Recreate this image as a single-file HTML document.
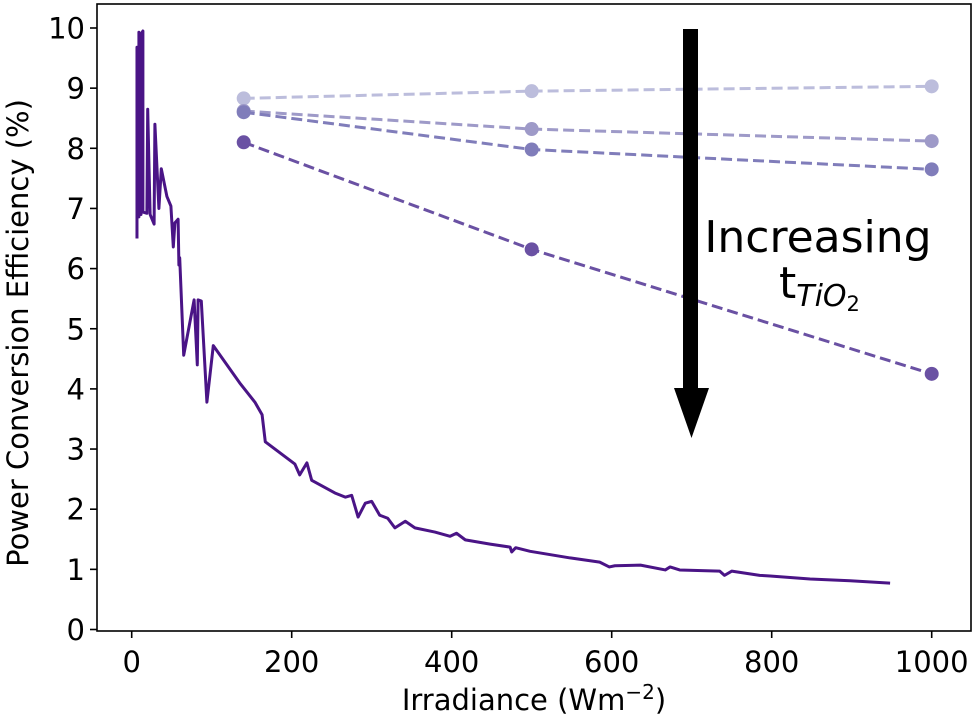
<!DOCTYPE html>
<html><head><meta charset="utf-8"><style>
html,body{margin:0;padding:0;background:#fff;}
svg{display:block;font-family:"DejaVu Sans","Liberation Sans",sans-serif;}
</style></head><body>
<svg id="chart" width="975" height="720" viewBox="0 0 975 720" xmlns="http://www.w3.org/2000/svg">
<g id="plot"></g>
<g id="axes"></g>
</svg>
<script>
const xTicks=[0,200,400,600,800,1000];
const yTicks=[0,1,2,3,4,5,6,7,8,9,10];
const mainX=[6.6,6.6,9,9,11.6,11.6,14,14,19,20,23,28,29,34,37,44,49,52,54,58,59,60,65,78,82,83,87,94,102,135,154,163,167,204,210,219,225,254,267,275,283,292,300,310,320,329,342,354,379,398,406,417,448,473,475,480,498,548,585,597,604,636,667,673,685,735,741,750,785,798,848,898,948];
const mainY=[6.5,9.68,6.86,9.93,6.9,9.9,9.95,6.94,6.92,8.65,6.9,6.74,8.4,7.0,7.66,7.2,7.04,6.36,6.76,6.82,6.06,6.18,4.56,5.48,4.4,5.48,5.46,3.78,4.72,4.1,3.78,3.57,3.12,2.75,2.57,2.77,2.48,2.27,2.2,2.23,1.87,2.1,2.13,1.9,1.85,1.69,1.8,1.69,1.62,1.55,1.6,1.49,1.42,1.37,1.29,1.36,1.3,1.19,1.12,1.04,1.06,1.07,0.99,1.04,0.99,0.97,0.9,0.97,0.9,0.89,0.84,0.81,0.77];
const devX=[140,500,1000];
const devA=[8.83,8.95,9.03];
const devB=[8.62,8.32,8.12];
const devC=[8.6,7.98,7.65];
const devD=[8.1,6.32,4.25];
const devColors=['#bcbddc','#9e9ac8','#807dba','#6a51a3'];

const L=97,R=971,T=4,B=631;
const sx=v=>131.7+v*0.8;
const sy=v=>629.5-v*60.15;
const NS='http://www.w3.org/2000/svg';
const plot=document.getElementById('plot'), axes=document.getElementById('axes');
function mk(tag,attrs,parent){const e=document.createElementNS(NS,tag);for(const k in attrs)e.setAttribute(k,attrs[k]);parent.appendChild(e);return e;}

const mp=mk('polyline',{points:mainX.map((x,i)=>sx(x)+','+sy(mainY[i])).join(' '),fill:'none',stroke:'#4a1486','stroke-width':3,'stroke-linejoin':'round'},plot);



[devA,devB,devC,devD].forEach((s,k)=>{
  const g=mk('g',{},plot);
  
  
  mk('polyline',{points:devX.map((x,i)=>sx(x)+','+sy(s[i])).join(' '),fill:'none',stroke:devColors[k],'stroke-width':3,'stroke-dasharray':'11,5'},g);
  devX.forEach((x,i)=>{
    const c=mk('circle',{cx:sx(x),cy:sy(s[i]),r:7,fill:devColors[k]},g);
    
    
  });
});

const ar=mk('g',{},plot);


mk('rect',{x:683,y:29,width:15,height:360,fill:'#000'},ar);
mk('polygon',{points:'674,388 709,388 691.5,438',fill:'#000'},ar);
const t1=mk('text',{x:818,y:252,'font-size':44,'text-anchor':'middle',fill:'#000'},plot);
t1.textContent='Increasing';


const t2=mk('text',{x:779,y:298,'font-size':44,fill:'#000'},plot);


t2.innerHTML='t<tspan font-size="30" font-style="italic" dy="8">TiO</tspan><tspan font-size="21" dy="5">2</tspan>';

mk('rect',{x:L,y:T,width:R-L,height:B-T,fill:'none',stroke:'#000','stroke-width':1.6},axes);
xTicks.forEach(v=>{
  const x=sx(v);
  mk('line',{x1:x,y1:B,x2:x,y2:B+7,stroke:'#000','stroke-width':1.6},axes);
  const t=mk('text',{x:x,y:672,'font-size':29,'text-anchor':'middle',fill:'#000'},axes);
  t.textContent=v;
  
  
});
yTicks.forEach(v=>{
  const y=sy(v);
  mk('line',{x1:L-7,y1:y,x2:L,y2:y,stroke:'#000','stroke-width':1.6},axes);
  const t=mk('text',{x:85,y:y+10.5,'font-size':29,'text-anchor':'end',fill:'#000'},axes);
  t.textContent=v;
  
  
});
const xl=mk('text',{x:534,y:710,'font-size':29,'text-anchor':'middle',fill:'#000'},axes);
xl.innerHTML='Irradiance (Wm<tspan font-size="20" dy="-11">−2</tspan><tspan dy="11">)</tspan>';


const yl=mk('text',{x:0,y:0,'font-size':29,'text-anchor':'middle',fill:'#000',transform:'translate(28,333) rotate(-90)'},axes);
yl.textContent='Power Conversion Efficiency (%)';


</script>
</body></html>
